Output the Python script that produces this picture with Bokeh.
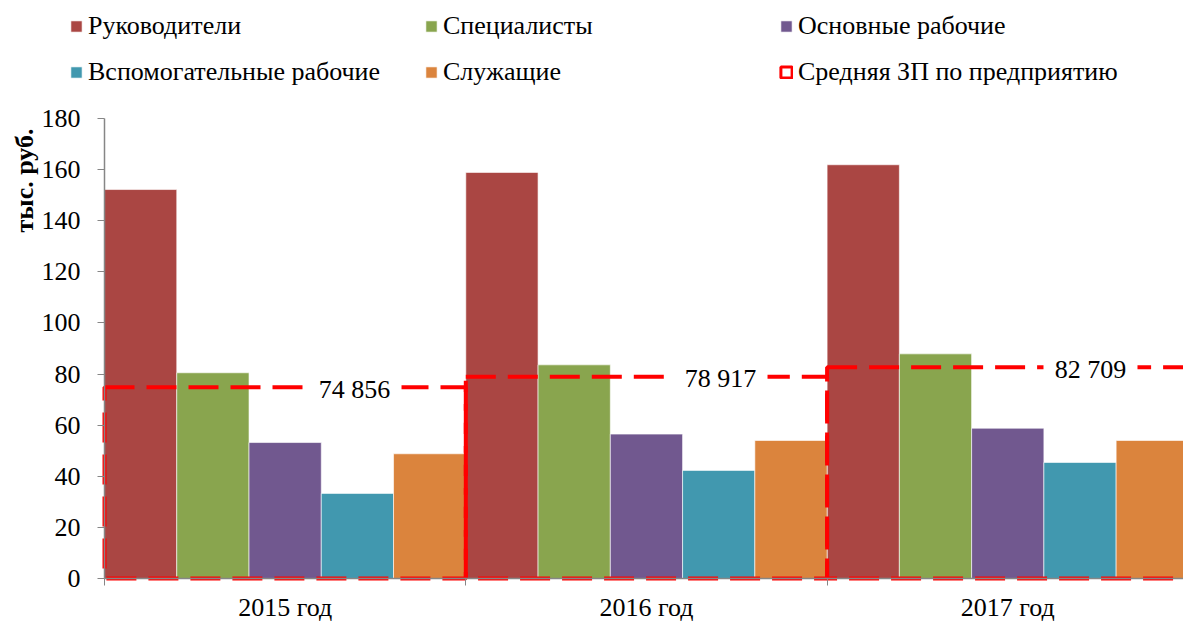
import numpy as np
from bokeh.plotting import figure
from bokeh.models import (ColumnDataSource, FixedTicker, Legend, LegendItem,
                          LabelSet, Label, Range1d)
from bokeh.embed import file_html
from bokeh.resources import INLINE
from bokeh.core.properties import value

# ---------------- data ----------------
years = ["2015 год", "2016 год", "2017 год"]
series = ["Руководители", "Специалисты", "Основные рабочие",
          "Вспомогательные рабочие", "Служащие"]
rukovoditeli = [152.2, 158.9, 161.9]
specialisty = [80.5, 83.6, 87.9]
osnovnye_rabochie = [53.2, 56.5, 58.8]
vspomogatelnye_rabochie = [33.3, 42.3, 45.4]
sluzhashchie = [48.8, 54.0, 54.0]
avg_salary = [74.856, 78.917, 82.709]          # тыс. руб.
avg_name = "Средняя ЗП по предприятию"
y_ticks = [0, 20, 40, 60, 80, 100, 120, 140, 160, 180]
y_title = "тыс. руб."

# ---------------- style ----------------
colors = ["#AA4643", "#89A54E", "#71588F", "#4198AF", "#DB843D"]
FONT = "Liberation Serif"
label_dx = [0.692, 0.705, 0.729]   # horizontal placement of value labels inside a year

values = [rukovoditeli, specialisty, osnovnye_rabochie,
          vspomogatelnye_rabochie, sluzhashchie]
n_groups = len(years)
n_series = len(series)
bar_w = 1.0 / n_series

W, H = 1183, 623
ax_left, ax_right = 104, 1183       # screen px of y-axis and right edge
y0_px, y180_px = 578, 118           # screen px of value 0 and 180
px_per_cat = 361.3
px_per_unit = (y0_px - y180_px) / 180.0

x_start = -ax_left / px_per_cat
x_end = (ax_right - ax_left) / px_per_cat
y_start = -(H - y0_px) / px_per_unit
y_end = y0_px / px_per_unit

p = figure(width=W, height=H, output_backend="svg", toolbar_location=None,
           x_range=Range1d(x_start, x_end), y_range=Range1d(y_start, y_end),
           min_border=0, min_border_left=0, min_border_right=0,
           min_border_top=0, min_border_bottom=0)
p.outline_line_color = None
p.xgrid.visible = False
p.ygrid.visible = False
p.background_fill_color = "white"
p.border_fill_color = "white"

bar_renderers = []
for j, (name, vals, col) in enumerate(zip(series, values, colors)):
    xs = [i + (j + 0.5) * bar_w for i in range(n_groups)]
    src = ColumnDataSource(dict(x=xs, top=vals))
    r = p.vbar(x="x", top="top", bottom=0, width=bar_w, source=src,
               fill_color=col, line_color="white", line_alpha=0.6, line_width=1)
    bar_renderers.append(r)

labels_txt = ["{:,}".format(int(round(v * 1000))).replace(",", " ") for v in avg_salary]
avg_src = ColumnDataSource(dict(
    left=[i for i in range(n_groups)],
    right=[i + 1 for i in range(n_groups)],
    top=avg_salary,
    xl=[i + label_dx[i] for i in range(n_groups)],
    lbl=labels_txt,
))
p.quad(left="left", right="right", bottom=0, top="top", source=avg_src,
       fill_color=None, line_color="#FF0000", line_width=4, line_dash="30 12")

# white box behind the value labels
p.rect(x="xl", y="top", width=94, height=24, width_units="screen",
       height_units="screen", source=avg_src, fill_color="white",
       line_color=None)

# legend-only glyph (a single NaN row, so nothing is drawn in the plot)
nan = np.array([np.nan])
legend_dummy = p.quad(left=nan, right=nan, bottom=nan, top=nan, fill_color=None,
                      line_color="#FF0000", line_width=3)

lbls = LabelSet(x="xl", y="top", text="lbl", source=avg_src, y_offset=-2,
                text_font=value(FONT), text_font_size="26px", text_color="black",
                text_align="center", text_baseline="middle")
p.add_layout(lbls)

# ---------------- axes ----------------
xa = p.xaxis[0]
xa.fixed_location = 0
xa.bounds = (0, n_groups)
xa.ticker = FixedTicker(ticks=[i + 0.5 for i in range(n_groups)],
                        minor_ticks=[i for i in range(n_groups + 1)])
xa.major_label_overrides = {i + 0.5: years[i] for i in range(n_groups)}
xa.major_tick_line_color = None
xa.major_tick_out = 0
xa.major_tick_in = 0
xa.minor_tick_out = 7
xa.minor_tick_in = 0
xa.minor_tick_line_color = "#868686"
xa.axis_line_color = "#868686"
xa.axis_line_width = 1.5
xa.major_label_standoff = 7
xa.major_label_text_font = FONT
xa.major_label_text_font_size = "26px"
xa.major_label_text_color = "black"

ya = p.yaxis[0]
ya.fixed_location = 0
ya.bounds = (0, 180)
ya.ticker = FixedTicker(ticks=y_ticks, minor_ticks=[])
ya.major_tick_out = 7
ya.major_tick_in = 0
ya.major_tick_line_color = "#868686"
ya.minor_tick_line_color = None
ya.axis_line_color = "#868686"
ya.axis_line_width = 1.5
ya.major_label_standoff = 17
ya.major_label_text_font = FONT
ya.major_label_text_font_size = "26px"
ya.major_label_text_color = "black"

ytitle = Label(x=24, y=H - 180, x_units="screen", y_units="screen", text=y_title,
               angle=np.pi / 2, text_align="center", text_baseline="middle",
               text_font=FONT, text_font_size="26px",
               text_font_style="bold", text_color="black")
p.add_layout(ytitle)

# ---------------- legend ----------------
cols = [
    [LegendItem(label=series[0], renderers=[bar_renderers[0]]),
     LegendItem(label=series[3], renderers=[bar_renderers[3]])],
    [LegendItem(label=series[1], renderers=[bar_renderers[1]]),
     LegendItem(label=series[4], renderers=[bar_renderers[4]])],
    [LegendItem(label=series[2], renderers=[bar_renderers[2]]),
     LegendItem(label=avg_name, renderers=[legend_dummy])],
]
xpos = [69, 424, 779]
for items, xp in zip(cols, xpos):
    lg = Legend(items=items, location=(xp, H - 87), orientation="vertical",
                padding=0, margin=0, spacing=16, border_line_color=None,
                background_fill_alpha=0, glyph_width=14, glyph_height=14,
                label_height=30, label_standoff=5,
                label_text_font=FONT, label_text_font_size="26px",
                label_text_color="black", label_text_baseline="middle")
    p.add_layout(lg, "center")

open("out.html", "w").write(file_html(p, INLINE))
